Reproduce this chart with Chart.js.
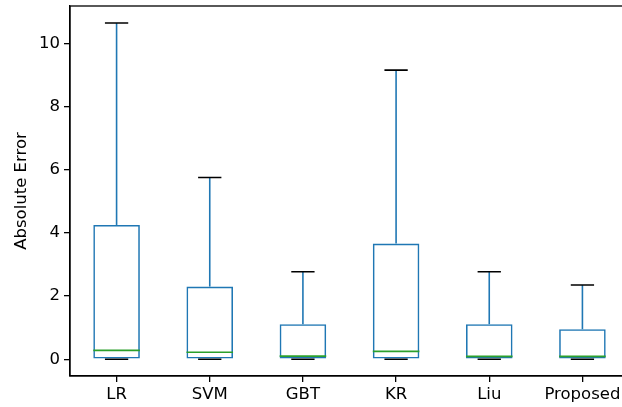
<!DOCTYPE html>
<html><head><meta charset="utf-8">
<script src="https://cdn.jsdelivr.net/npm/chart.js@4"></script>
<style>html,body{margin:0;padding:0;overflow:hidden;background:#fff}canvas{display:block}</style>
</head><body>
<canvas id="c" width="640" height="407"></canvas>
<script>
const categories = ['LR','SVM','GBT','KR','Liu','Proposed'];
const whiskerLow = [0,0,0,0,0,0];
const q1 = [0,0,0,0,0,0];
const median = [0.28,0.22,0.10,0.25,0.09,0.09];
const q3 = [4.25,2.30,1.11,3.66,1.11,0.95];
const whiskerHigh = [10.64,5.75,2.77,9.15,2.77,2.35];
const yTicks = [0,2,4,6,8,10];

const FONT = 'DejaVu Sans';
const FS = 16.5;
const LW = 1.6;
const boxPlugin = {
  id:'boxparts',
  afterDatasetsDraw(chart){
    const ctx = chart.ctx, x = chart.scales.x, y = chart.scales.y;
    const step = x.getPixelForValue(1) - x.getPixelForValue(0);
    const capHalf = step*0.125;
    ctx.save();
    ctx.lineCap = 'butt';
    categories.forEach((c,i)=>{
      const px = x.getPixelForValue(i);
      ctx.strokeStyle = '#1f77b4'; ctx.lineWidth = LW;
      ctx.beginPath();
      ctx.moveTo(px, y.getPixelForValue(q3[i])); ctx.lineTo(px, y.getPixelForValue(whiskerHigh[i]));
      ctx.moveTo(px, y.getPixelForValue(q1[i])); ctx.lineTo(px, y.getPixelForValue(whiskerLow[i]));
      ctx.stroke();
      ctx.strokeStyle = '#000'; ctx.lineWidth = LW;
      ctx.beginPath();
      const yh = y.getPixelForValue(whiskerHigh[i]), yl = y.getPixelForValue(whiskerLow[i]);
      ctx.moveTo(px-capHalf, yh); ctx.lineTo(px+capHalf, yh);
      ctx.moveTo(px-capHalf, yl); ctx.lineTo(px+capHalf, yl);
      ctx.stroke();
      ctx.strokeStyle = '#2ca02c'; ctx.lineWidth = LW;
      const ym = y.getPixelForValue(median[i]);
      ctx.beginPath();
      ctx.moveTo(px-step*0.25, ym); ctx.lineTo(px+step*0.25, ym);
      ctx.stroke();
    });
    const a = chart.chartArea;
    ctx.strokeStyle = '#000'; ctx.lineWidth = 1.3;
    ctx.strokeRect(a.left, a.top, a.right-a.left, a.bottom-a.top);
    ctx.restore();
  }
};

new Chart(document.getElementById('c'), {
  type:'bar',
  data:{
    labels: categories,
    datasets:[{
      data: categories.map((c,i)=>[q1[i], q3[i]]),
      backgroundColor:'rgba(0,0,0,0)',
      borderColor:'#1f77b4',
      borderWidth:LW,
      borderSkipped:false,
      barPercentage:0.5,
      categoryPercentage:1.0
    }]
  },
  options:{
    responsive:false,
    animation:false,
    layout:{padding:{top:6,left:0,right:11,bottom:0}},
    plugins:{legend:{display:false},tooltip:{enabled:false}},
    scales:{
      x:{
        offset:true,
        grid:{display:true,offset:false,drawOnChartArea:false,drawTicks:true,tickLength:6,color:'#000',lineWidth:1.3},
        border:{display:true,color:'#000',width:1.3},
        ticks:{color:'#000',font:{family:FONT,size:FS},padding:3,maxRotation:0,autoSkip:false},
        afterFit(s){ s.height = 31; s.paddingLeft = 0; s.paddingRight = 0; }
      },
      y:{
        min:-0.53, max:11.18,
        afterBuildTicks(s){ s.ticks = yTicks.map(v=>({value:v})); },
        grid:{display:true,drawOnChartArea:false,drawTicks:true,tickLength:6,color:'#000',lineWidth:1.3},
        border:{display:true,color:'#000',width:1.3},
        ticks:{color:'#000',font:{family:FONT,size:FS},padding:4},
        title:{display:true,text:'Absolute Error',color:'#000',font:{family:FONT,size:FS},padding:{top:12,bottom:4}},
        afterFit(s){ s.width = 70; s.paddingTop = 0; s.paddingBottom = 0; }
      }
    }
  },
  plugins:[boxPlugin]
});
</script>
</body></html>
